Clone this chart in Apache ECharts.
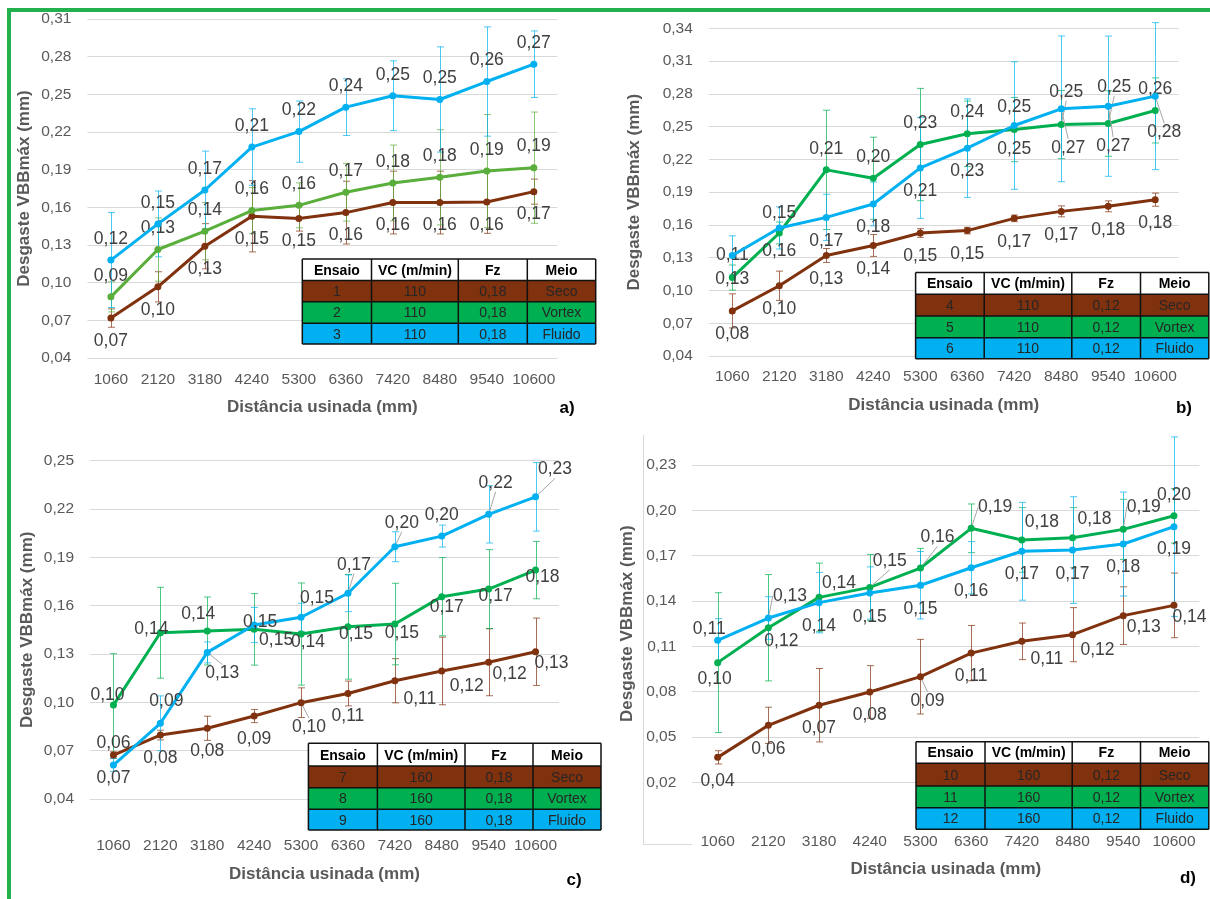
<!DOCTYPE html>
<html><head><meta charset="utf-8">
<script src="https://cdn.jsdelivr.net/npm/echarts@6/dist/echarts.min.js"></script>
<style>html,body{margin:0;padding:0;background:#fff}#c{width:1210px;height:899px}</style>
</head><body><div id="c"></div>
<script>
// ---------------- DATA ----------------
const categories = ['1060','2120','3180','4240','5300','6360','7420','8480','9540','10600'];
const yTitle = 'Desgaste VBBmáx (mm)';
const xTitle = 'Distância usinada (mm)';
const tableHeader = ['Ensaio','VC (m/min)','Fz','Meio'];

// a) VC 110, Fz 0,18
const a_seco   = [0.0718,0.0967,0.129,0.1529,0.1511,0.1558,0.1638,0.1638,0.1643,0.1725];
const a_vortex = [0.0887,0.1264,0.141,0.1574,0.1616,0.172,0.1794,0.1839,0.1889,0.1916];
const a_fluido = [0.118,0.1468,0.1738,0.208,0.2203,0.2398,0.2489,0.2459,0.2602,0.274];
const a_seco_err   = [0.0073,0.012,0.018,0.0284,0.01,0.025,0.025,0.025,0.025,0.01];
const a_vortex_err = [0.012,0.0252,0.0228,0.0184,0.0179,0.023,0.0302,0.0379,0.045,0.0443];
const a_fluido_err = [0.0378,0.0262,0.031,0.0305,0.0244,0.0226,0.0278,0.0419,0.0435,0.0265];
const a_table = [['1','110','0,18','Seco'],['2','110','0,18','Vortex'],['3','110','0,18','Fluido']];

// b) VC 110, Fz 0,12
const b_seco   = [0.0813,0.1043,0.132,0.1412,0.1526,0.1548,0.166,0.1724,0.177,0.1831];
const b_vortex = [0.1118,0.1526,0.2104,0.2027,0.2336,0.2434,0.2473,0.2519,0.2528,0.2648];
const b_fluido = [0.132,0.1572,0.1669,0.1792,0.2122,0.2303,0.251,0.2663,0.2687,0.2779];
const b_seco_err   = [0.0156,0.0134,0.0064,0.01,0.004,0.003,0.003,0.005,0.005,0.006];
const b_vortex_err = [0.0115,0.01,0.0546,0.0376,0.0514,0.03,0.0294,0.0312,0.03,0.0298];
const b_fluido_err = [0.018,0.0193,0.0211,0.02,0.0462,0.0451,0.0584,0.0667,0.0642,0.0673];
const b_table = [['4','110','0,12','Seco'],['5','110','0,12','Vortex'],['6','110','0,12','Fluido']];

// c) VC 160, Fz 0,18
const c_seco   = [0.0673,0.0797,0.0839,0.0915,0.0998,0.1055,0.1134,0.1195,0.1249,0.1314];
const c_vortex = [0.0983,0.1432,0.1443,0.1453,0.1424,0.1469,0.1486,0.1656,0.1703,0.1821];
const c_fluido = [0.0611,0.087,0.131,0.148,0.1528,0.1677,0.1966,0.2032,0.2167,0.2276];
const c_seco_err   = [0.002,0.003,0.0075,0.0041,0.0092,0.0077,0.0137,0.021,0.0208,0.0209];
const c_vortex_err = [0.0319,0.0282,0.0211,0.0222,0.0317,0.0325,0.0253,0.0243,0.0245,0.0178];
const c_fluido_err = [0.004,0.017,0.0065,0.0109,0.0087,0.0114,0.0093,0.0068,0.0178,0.0213];
const c_table = [['7','160','0,18','Seco'],['8','160','0,18','Vortex'],['9','160','0,18','Fluido']];

// d) VC 160, Fz 0,12
const d_seco   = [0.0365,0.0577,0.071,0.0798,0.0899,0.1055,0.1133,0.1177,0.1303,0.1371];
const d_vortex = [0.0992,0.1223,0.1424,0.149,0.1618,0.1881,0.1804,0.1819,0.1874,0.1964];
const d_fluido = [0.114,0.1287,0.1389,0.1453,0.1504,0.162,0.1729,0.1737,0.1777,0.1892];
const d_seco_err   = [0.0044,0.012,0.0243,0.0174,0.0247,0.0183,0.0121,0.0179,0.0191,0.0214];
const d_vortex_err = [0.0463,0.0352,0.0227,0.0218,0.013,0.0161,0.0214,0.0199,0.0199,0.0181];
const d_fluido_err = [0.0143,0.0141,0.02,0.0173,0.0223,0.0173,0.0324,0.0353,0.0344,0.0594];
const d_table = [['10','160','0,12','Seco'],['11','160','0,12','Vortex'],['12','160','0,12','Fluido']];

// ---------------- LABEL PLACEMENT (style: px offsets of label centre from point) ----------------
const rep = (n, v) => Array.from({length:n}, () => v.slice());
const a_lbl_seco = rep(10,[0,23]), a_lbl_vortex = rep(10,[0,-21]), a_lbl_fluido = rep(10,[0,-21]);
const b_lbl_seco = rep(10,[0,23.5]);
const b_lbl_vortex = [[0,-22],[0,-19.6],[0,-20.6],[0,-21],[0,-21],[0,-21.6],[0,19.7],[5,-32.7],[6,-36.7],[0,-21.7]];
const b_lbl_fluido = [[0,23.3],[0,23.4],[0,23.3],[0,23],[0,23.7],[0,23.4],[0,-18],[7,39],[5,40],[9,36]];
const c_lbl_seco = [[0,23.3],[0,23.3],[0,23.3],[0,23],[8,24.6],[0,23],[25,18.6],[25,15],[21,12],[16,11]];
const c_lbl_vortex = [[-6,-10],[-9,-4],[-9,-17],[22,11],[7,8],[8,7],[7,9],[5,11],[7,7],[7,7]];
const c_lbl_fluido = [[0,-21.7],[6,-22.6],[15,21],[6,-3],[16,-19],[6,-28.6],[7,-24],[0,-21],[7,-31.6],[19.5,-27.4]];
const d_lbl_seco = [[0,23.4],[0,24],[0,23],[0,23.7],[7,24],[0,23],[25,18],[25,15],[20.5,11.6],[15.5,11.4]];
const d_lbl_vortex = [[-3,16.6],[13,13],[20,-14],[20,-26.6],[17,-30.7],[24,-21],[20,-17.3],[22,-18.4],[20.5,-22.6],[0,-20.7]];
const d_lbl_fluido = [[-8.4,-11.3],[21.6,-22.3],[0,23.3],[0,23.7],[0,23.7],[0,23.6],[0,22.7],[0,24],[0,23.4],[0,22.6]];
// points whose label has a leader line (indices)
const b_lead = [[], [7,8], [7,8,9]];
const c_lead = [[4], [], [2,5,6,8,9]];
const d_lead = [[4], [3,4,5,8], [1]];

// ---------------- STYLE ----------------
const FONT = "'Liberation Sans', Arial, sans-serif";
const C_SECO = '#80310E', C_VORTEX = '#00B050', C_FLUIDO = '#00B0F0';
const fmt = v => v.toFixed(2).replace('.', ',');

const panels = [
  {grid:{left:87.4, top:19, width:469.9, height:339}, min:0.04, max:0.31,
   s:[a_seco,a_vortex,a_fluido], e:[a_seco_err,a_vortex_err,a_fluido_err], l:[a_lbl_seco,a_lbl_vortex,a_lbl_fluido], lead:[[],[],[]],
   vortexColor:'#5AAE3B', xMargin:14, xNameGap:40.5, yNameGap:54.4,
   tcols:[302.3,371.5,458.3,527.3,595.7], trows:[259,280.5,301.7,323.3,344], trowsData:a_table, tag:'a)', tagPos:[567,408]},
  {grid:{left:708.8, top:28.3, width:469.9, height:327.7}, min:0.04, max:0.34,
   s:[b_seco,b_vortex,b_fluido], e:[b_seco_err,b_vortex_err,b_fluido_err], l:[b_lbl_seco,b_lbl_vortex,b_lbl_fluido], lead:b_lead,
   vortexColor:C_VORTEX, xMargin:13, xNameGap:40.5, yNameGap:66,
   tcols:[915.6,984.2,1071.8,1140.5,1208.8], trows:[272.5,294.3,316,337.7,358.7], trowsData:b_table, tag:'b)', tagPos:[1184,408]},
  {grid:{left:90, top:460.7, width:469, height:338.3}, min:0.04, max:0.25,
   s:[c_seco,c_vortex,c_fluido], e:[c_seco_err,c_vortex_err,c_fluido_err], l:[c_lbl_seco,c_lbl_vortex,c_lbl_fluido], lead:c_lead,
   vortexColor:C_VORTEX, xMargin:39, xNameGap:66.5, yNameGap:54.5,
   tcols:[308.4,377.4,465,533,601], trows:[743.3,766,787.7,809.3,830], trowsData:c_table, tag:'c)', tagPos:[574,880]},
  {grid:{left:692.3, top:465, width:507, height:317.3}, min:0.02, max:0.23,
   s:[d_seco,d_vortex,d_fluido], e:[d_seco_err,d_vortex_err,d_fluido_err], l:[d_lbl_seco,d_lbl_vortex,d_lbl_fluido], lead:d_lead,
   vortexColor:C_VORTEX, xMargin:51, xNameGap:78.5, yNameGap:56.4,
   tcols:[916,985,1072.2,1140.5,1208.8], trows:[741.7,763.3,786,807.7,829.3], trowsData:d_table, tag:'d)', tagPos:[1188,878]}
];

function errRender(color) {
  return function (params, api) {
    const x = api.value(0), lo = api.value(1), hi = api.value(2);
    const p1 = api.coord([x, lo]), p2 = api.coord([x, hi]);
    const w = 3.5, cx = Math.round(p1[0]) + 0.5;
    const style = {stroke: color, lineWidth: 1, opacity: 0.7};
    return {type:'group', children:[
      {type:'line', shape:{x1:cx, y1:p1[1], x2:cx, y2:p2[1]}, style},
      {type:'line', shape:{x1:cx-w, y1:p1[1], x2:cx+w, y2:p1[1]}, style},
      {type:'line', shape:{x1:cx-w, y1:p2[1], x2:cx+w, y2:p2[1]}, style}
    ]};
  };
}

const grids = [], xAxes = [], yAxes = [], series = [], graphics = [];
panels.forEach((p, k) => {
  grids.push(Object.assign({containLabel:false, outerBoundsMode:'none'}, p.grid));
  xAxes.push({gridIndex:k, type:'category', data:categories, boundaryGap:true,
    axisLine:{show:false}, axisTick:{show:false},
    axisLabel:{margin:p.xMargin, fontSize:15.5, color:'#595959', fontFamily:FONT, interval:0},
    name:xTitle, nameLocation:'middle', nameGap:p.xNameGap,
    nameTextStyle:{fontSize:17, fontWeight:'bold', color:'#595959', fontFamily:FONT}});
  yAxes.push({gridIndex:k, type:'value', min:p.min, max:p.max, interval:0.03,
    axisLine:{show:false}, axisTick:{show:false},
    axisLabel:{margin:16, fontSize:15.5, color:'#595959', fontFamily:FONT, formatter:fmt},
    splitLine:{show:true, lineStyle:{color:'#D9D9D9', width:1}},
    name:yTitle, nameLocation:'middle', nameRotate:90, nameGap:p.yNameGap,
    nameTextStyle:{fontSize:17, fontWeight:'bold', color:'#595959', fontFamily:FONT}});
  const colors = [C_SECO, p.vortexColor, C_FLUIDO];
  const names = ['Seco','Vortex','Fluido'];
  [0,1,2].forEach(j => {
    series.push({type:'custom', name:names[j]+' erro', xAxisIndex:k, yAxisIndex:k, z:1, clip:false,
      renderItem: errRender(colors[j]),
      data: p.s[j].map((v, i) => [i, v - p.e[j][i], v + p.e[j][i]])});
  });
  [0,1,2].forEach(j => {
    const offs = p.l[j], lead = p.lead[j];
    series.push({type:'line', name:names[j], xAxisIndex:k, yAxisIndex:k, z:3+j,
      symbol:'circle', symbolSize:7, showSymbol:true,
      lineStyle:{color:colors[j], width:3}, itemStyle:{color:colors[j]},
      label:{show:true, position:'inside', formatter: q => fmt(q.value), fontSize:17.5, color:'#404040', fontFamily:FONT},
      labelLine:{show:false, lineStyle:{color:'#A6A6A6', width:1}},
      labelLayout: q => ({dx: offs[q.dataIndex][0], dy: offs[q.dataIndex][1], hideOverlap:false}),
      data: p.s[j].map((v, i) => lead.indexOf(i) >= 0
        ? {value:v, labelLine:{show:true, lineStyle:{color:'#A6A6A6', width:1}}}
        : {value:v})});
  });
  // table
  const c = p.tcols, r = p.trows, rowColors = [C_SECO, C_VORTEX, C_FLUIDO];
  graphics.push({type:'rect', z:100, shape:{x:c[0], y:r[0], width:c[4]-c[0], height:r[1]-r[0]}, style:{fill:'#fff'}});
  for (let ri = 0; ri < 3; ri++) {
    graphics.push({type:'rect', z:100, shape:{x:c[0], y:r[ri+1], width:c[4]-c[0], height:r[ri+2]-r[ri+1]}, style:{fill:rowColors[ri]}});
  }
  for (let ci = 0; ci < 4; ci++) {
    const cx = (c[ci] + c[ci+1]) / 2;
    graphics.push({type:'text', z:102, x:cx, y:(r[0]+r[1])/2 + 1,
      style:{text:tableHeader[ci], font:'bold 14px ' + FONT, fill:'#000', align:'center', verticalAlign:'middle'}});
    for (let ri = 0; ri < 3; ri++) {
      graphics.push({type:'text', z:102, x:cx, y:(r[ri+1]+r[ri+2])/2 + 1,
        style:{text:p.trowsData[ri][ci], font:'14px ' + FONT, fill:'#262626', align:'center', verticalAlign:'middle'}});
    }
  }
  r.forEach(yy => graphics.push({type:'line', z:101, shape:{x1:c[0], y1:yy, x2:c[4], y2:yy}, style:{stroke:'#111', lineWidth:1.5}}));
  c.forEach(xx => graphics.push({type:'line', z:101, shape:{x1:xx, y1:r[0], x2:xx, y2:r[4]}, style:{stroke:'#111', lineWidth:1.5}}));
  graphics.push({type:'text', z:102, x:p.tagPos[0], y:p.tagPos[1],
    style:{text:p.tag, font:'bold 17px ' + FONT, fill:'#000', align:'center', verticalAlign:'middle'}});
});

// faint frame line of panel d
graphics.push({type:'polyline', z:0, shape:{points:[[643.5,435],[643.5,844.5],[692,844.5]]}, style:{stroke:'#D9D9D9', lineWidth:1, fill:null}});
// green page border
graphics.push({type:'rect', z:200, shape:{x:7, y:8, width:1210-7, height:4}, style:{fill:'#22B14C'}});
graphics.push({type:'rect', z:200, shape:{x:7, y:8, width:4, height:899-8}, style:{fill:'#22B14C'}});

const chart = echarts.init(document.getElementById('c'), null, {renderer:'canvas'});
chart.setOption({
  animation:false,
  backgroundColor:'#fff',
  textStyle:{fontFamily:FONT},
  grid:grids, xAxis:xAxes, yAxis:yAxes, series:series,
  graphic:{elements:graphics}
});
</script></body></html>
